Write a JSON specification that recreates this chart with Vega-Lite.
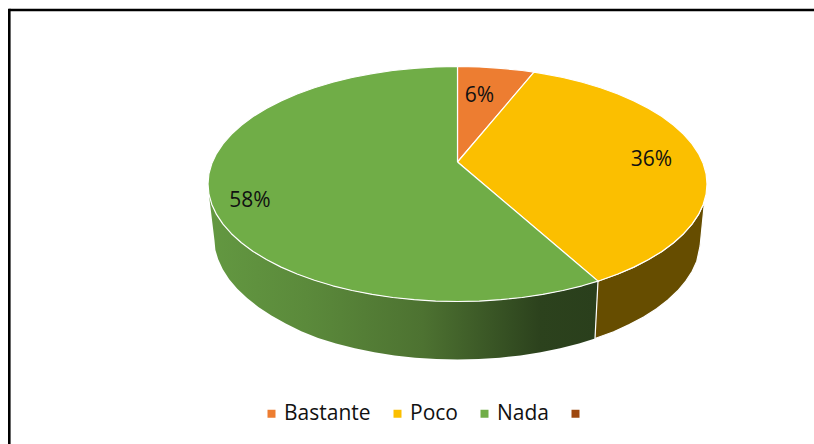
{"$schema":"https://vega.github.io/schema/vega-lite/v6.json","width":814,"height":444,"padding":0,"autosize":"none","background":"white","view":{"stroke":null},"config":{"font":"Open Sans"},
"encoding":{"x":{"field":"x","type":"quantitative","axis":null,"scale":{"domain":[-457.5,356.5],"nice":false,"zero":false}},"y":{"field":"y","type":"quantitative","axis":null,"scale":{"domain":[-260,184],"nice":false,"zero":false}}},
"layer":[
{"data":{"values":[{"x":-448.2,"x2":356.5,"y":174}]},"mark":{"type":"rule","color":"black","strokeWidth":2.6},"encoding":{"x2":{"field":"x2"}}},
{"data":{"values":[{"x":-448.2,"y":175.3,"y2":-260}]},"mark":{"type":"rule","color":"black","strokeWidth":2.6},"encoding":{"y2":{"field":"y2"}}},
{"data":{"values":[{"x":-248.6,"y":-10.2},{"x":-245.7,"y":-20.4},{"x":-241,"y":-30.4},{"x":-234.5,"y":-40.2},{"x":-226.1,"y":-49.7},{"x":-216.1,"y":-58.75},{"x":-204.4,"y":-67.4},{"x":-191.1,"y":-75.5},{"x":-176.4,"y":-83.1},{"x":-160.4,"y":-90},{"x":-143.1,"y":-96.3},{"x":-124.75,"y":-101.8},{"x":-105.4,"y":-106.5},{"x":-85.3,"y":-110.4},{"x":-64.6,"y":-113.5},{"x":-43.3,"y":-115.7},{"x":-21.8,"y":-117.1},{"x":0,"y":-117.5},{"x":21.8,"y":-117.1},{"x":43.3,"y":-115.7},{"x":64.6,"y":-113.5},{"x":85.3,"y":-110.4},{"x":105.4,"y":-106.5},{"x":124.75,"y":-101.8},{"x":140.5,"y":-97.1},{"x":137.5,"y":-154.5},{"x":121.5,"y":-159.6},{"x":102.7,"y":-164.3},{"x":83.1,"y":-168.3},{"x":62.9,"y":-171.4},{"x":42.2,"y":-173.7},{"x":21.2,"y":-175.1},{"x":0,"y":-175.5},{"x":-21.2,"y":-175.1},{"x":-42.2,"y":-173.7},{"x":-62.9,"y":-171.4},{"x":-83.1,"y":-168.3},{"x":-102.7,"y":-164.3},{"x":-121.5,"y":-159.6},{"x":-139.4,"y":-154},{"x":-156.2,"y":-147.2},{"x":-171.8,"y":-139.6},{"x":-186.1,"y":-131.5},{"x":-199.1,"y":-123},{"x":-210.4,"y":-114},{"x":-220.2,"y":-104.8},{"x":-228.3,"y":-95.2},{"x":-234.7,"y":-85.3},{"x":-239.3,"y":-75.2},{"x":-242.1,"y":-65.9},{"x":-243,"y":-56.5},{"x":-248.6,"y":-10.2}]},
"mark":{"type":"line","strokeWidth":0,"fill":{"gradient":"linear","x1":0,"y1":0,"x2":1,"y2":0,"stops":[{"offset":0,"color":"#639841"},{"offset":0.25,"color":"#5B8A3B"},{"offset":0.55,"color":"#4D7231"},{"offset":0.85,"color":"#2C421D"},{"offset":1,"color":"#2A3F1C"}]}},"encoding":{"order":{"value":null}}},
{"data":{"values":[{"x":140.5,"y":-97.1},{"x":143.1,"y":-96.3},{"x":160.4,"y":-90},{"x":176.4,"y":-83.1},{"x":191.1,"y":-75.5},{"x":204.4,"y":-67.4},{"x":216.1,"y":-58.75},{"x":226.1,"y":-49.7},{"x":234.5,"y":-40.2},{"x":241,"y":-30.4},{"x":247,"y":-18},{"x":242.6,"y":-62},{"x":239.3,"y":-77.2},{"x":234.7,"y":-87.3},{"x":228.3,"y":-97.2},{"x":220.2,"y":-106.8},{"x":210.4,"y":-116},{"x":199.1,"y":-124.8},{"x":186.1,"y":-133},{"x":171.8,"y":-140.6},{"x":156.2,"y":-147.7},{"x":137.5,"y":-154.5},{"x":140.5,"y":-97.1}]},
"mark":{"type":"line","stroke":"white","strokeWidth":1.2,"fill":"#664D00"},"encoding":{"order":{"value":null}}},
{"data":{"values":[
{"slice":"Bastante","x":0,"y":22},{"slice":"Bastante","x":0,"y":117.5},{"slice":"Bastante","x":21.8,"y":117.1},{"slice":"Bastante","x":43.3,"y":115.7},{"slice":"Bastante","x":64.6,"y":113.5},{"slice":"Bastante","x":76.5,"y":111.9},{"slice":"Bastante","x":0,"y":22},
{"slice":"Poco","x":0,"y":22},{"slice":"Poco","x":76.5,"y":111.9},{"slice":"Poco","x":85.3,"y":110.4},{"slice":"Poco","x":105.4,"y":106.5},{"slice":"Poco","x":124.75,"y":101.8},{"slice":"Poco","x":143.1,"y":96.3},{"slice":"Poco","x":160.4,"y":90},{"slice":"Poco","x":176.4,"y":83.1},{"slice":"Poco","x":191.1,"y":75.5},{"slice":"Poco","x":204.4,"y":67.4},{"slice":"Poco","x":216.1,"y":58.75},{"slice":"Poco","x":226.1,"y":49.7},{"slice":"Poco","x":234.5,"y":40.2},{"slice":"Poco","x":241,"y":30.4},{"slice":"Poco","x":245.7,"y":20.4},{"slice":"Poco","x":248.6,"y":10.2},{"slice":"Poco","x":249.5,"y":0},{"slice":"Poco","x":248.6,"y":-10.2},{"slice":"Poco","x":245.7,"y":-20.4},{"slice":"Poco","x":241,"y":-30.4},{"slice":"Poco","x":234.5,"y":-40.2},{"slice":"Poco","x":226.1,"y":-49.7},{"slice":"Poco","x":216.1,"y":-58.75},{"slice":"Poco","x":204.4,"y":-67.4},{"slice":"Poco","x":191.1,"y":-75.5},{"slice":"Poco","x":176.4,"y":-83.1},{"slice":"Poco","x":160.4,"y":-90},{"slice":"Poco","x":143.1,"y":-96.3},{"slice":"Poco","x":140.5,"y":-97.1},{"slice":"Poco","x":0,"y":22},
{"slice":"Nada","x":0,"y":22},{"slice":"Nada","x":140.5,"y":-97.1},{"slice":"Nada","x":124.75,"y":-101.8},{"slice":"Nada","x":105.4,"y":-106.5},{"slice":"Nada","x":85.3,"y":-110.4},{"slice":"Nada","x":64.6,"y":-113.5},{"slice":"Nada","x":43.3,"y":-115.7},{"slice":"Nada","x":21.8,"y":-117.1},{"slice":"Nada","x":0,"y":-117.5},{"slice":"Nada","x":-21.8,"y":-117.1},{"slice":"Nada","x":-43.3,"y":-115.7},{"slice":"Nada","x":-64.6,"y":-113.5},{"slice":"Nada","x":-85.3,"y":-110.4},{"slice":"Nada","x":-105.4,"y":-106.5},{"slice":"Nada","x":-124.75,"y":-101.8},{"slice":"Nada","x":-143.1,"y":-96.3},{"slice":"Nada","x":-160.4,"y":-90},{"slice":"Nada","x":-176.4,"y":-83.1},{"slice":"Nada","x":-191.1,"y":-75.5},{"slice":"Nada","x":-204.4,"y":-67.4},{"slice":"Nada","x":-216.1,"y":-58.75},{"slice":"Nada","x":-226.1,"y":-49.7},{"slice":"Nada","x":-234.5,"y":-40.2},{"slice":"Nada","x":-241,"y":-30.4},{"slice":"Nada","x":-245.7,"y":-20.4},{"slice":"Nada","x":-248.6,"y":-10.2},{"slice":"Nada","x":-249.5,"y":0},{"slice":"Nada","x":-248.6,"y":10.2},{"slice":"Nada","x":-245.7,"y":20.4},{"slice":"Nada","x":-241,"y":30.4},{"slice":"Nada","x":-234.5,"y":40.2},{"slice":"Nada","x":-226.1,"y":49.7},{"slice":"Nada","x":-216.1,"y":58.75},{"slice":"Nada","x":-204.4,"y":67.4},{"slice":"Nada","x":-191.1,"y":75.5},{"slice":"Nada","x":-176.4,"y":83.1},{"slice":"Nada","x":-160.4,"y":90},{"slice":"Nada","x":-143.1,"y":96.3},{"slice":"Nada","x":-124.75,"y":101.8},{"slice":"Nada","x":-105.4,"y":106.5},{"slice":"Nada","x":-85.3,"y":110.4},{"slice":"Nada","x":-64.6,"y":113.5},{"slice":"Nada","x":-43.3,"y":115.7},{"slice":"Nada","x":-21.8,"y":117.1},{"slice":"Nada","x":0,"y":117.5},{"slice":"Nada","x":0,"y":22}
]},
"mark":{"type":"line","stroke":"white","strokeWidth":1.2,"strokeJoin":"round"},
"encoding":{"order":{"value":null},"fill":{"field":"slice","type":"nominal","scale":{"domain":["Bastante","Poco","Nada"," "],"range":["#ED7D31","#FBBF00","#70AD47","#9E480E"]},"legend":{"title":null,"orient":"none","legendX":261,"legendY":403,"direction":"horizontal","columns":4,"columnPadding":16,"symbolType":"square","symbolSize":64,"symbolStrokeWidth":0,"labelFontSize":21,"labelFont":"Open Sans","labelColor":"#111111","labelOffset":2,"symbolOffset":0,"padding":0}}}},
{"data":{"values":[{"label":"6%","x":22,"y":88},{"label":"36%","x":194,"y":24},{"label":"58%","x":-207.5,"y":-17}]},"mark":{"type":"text","fontSize":21,"font":"Open Sans","color":"#111111","align":"center","baseline":"middle"},"encoding":{"text":{"field":"label"}}}
]}
